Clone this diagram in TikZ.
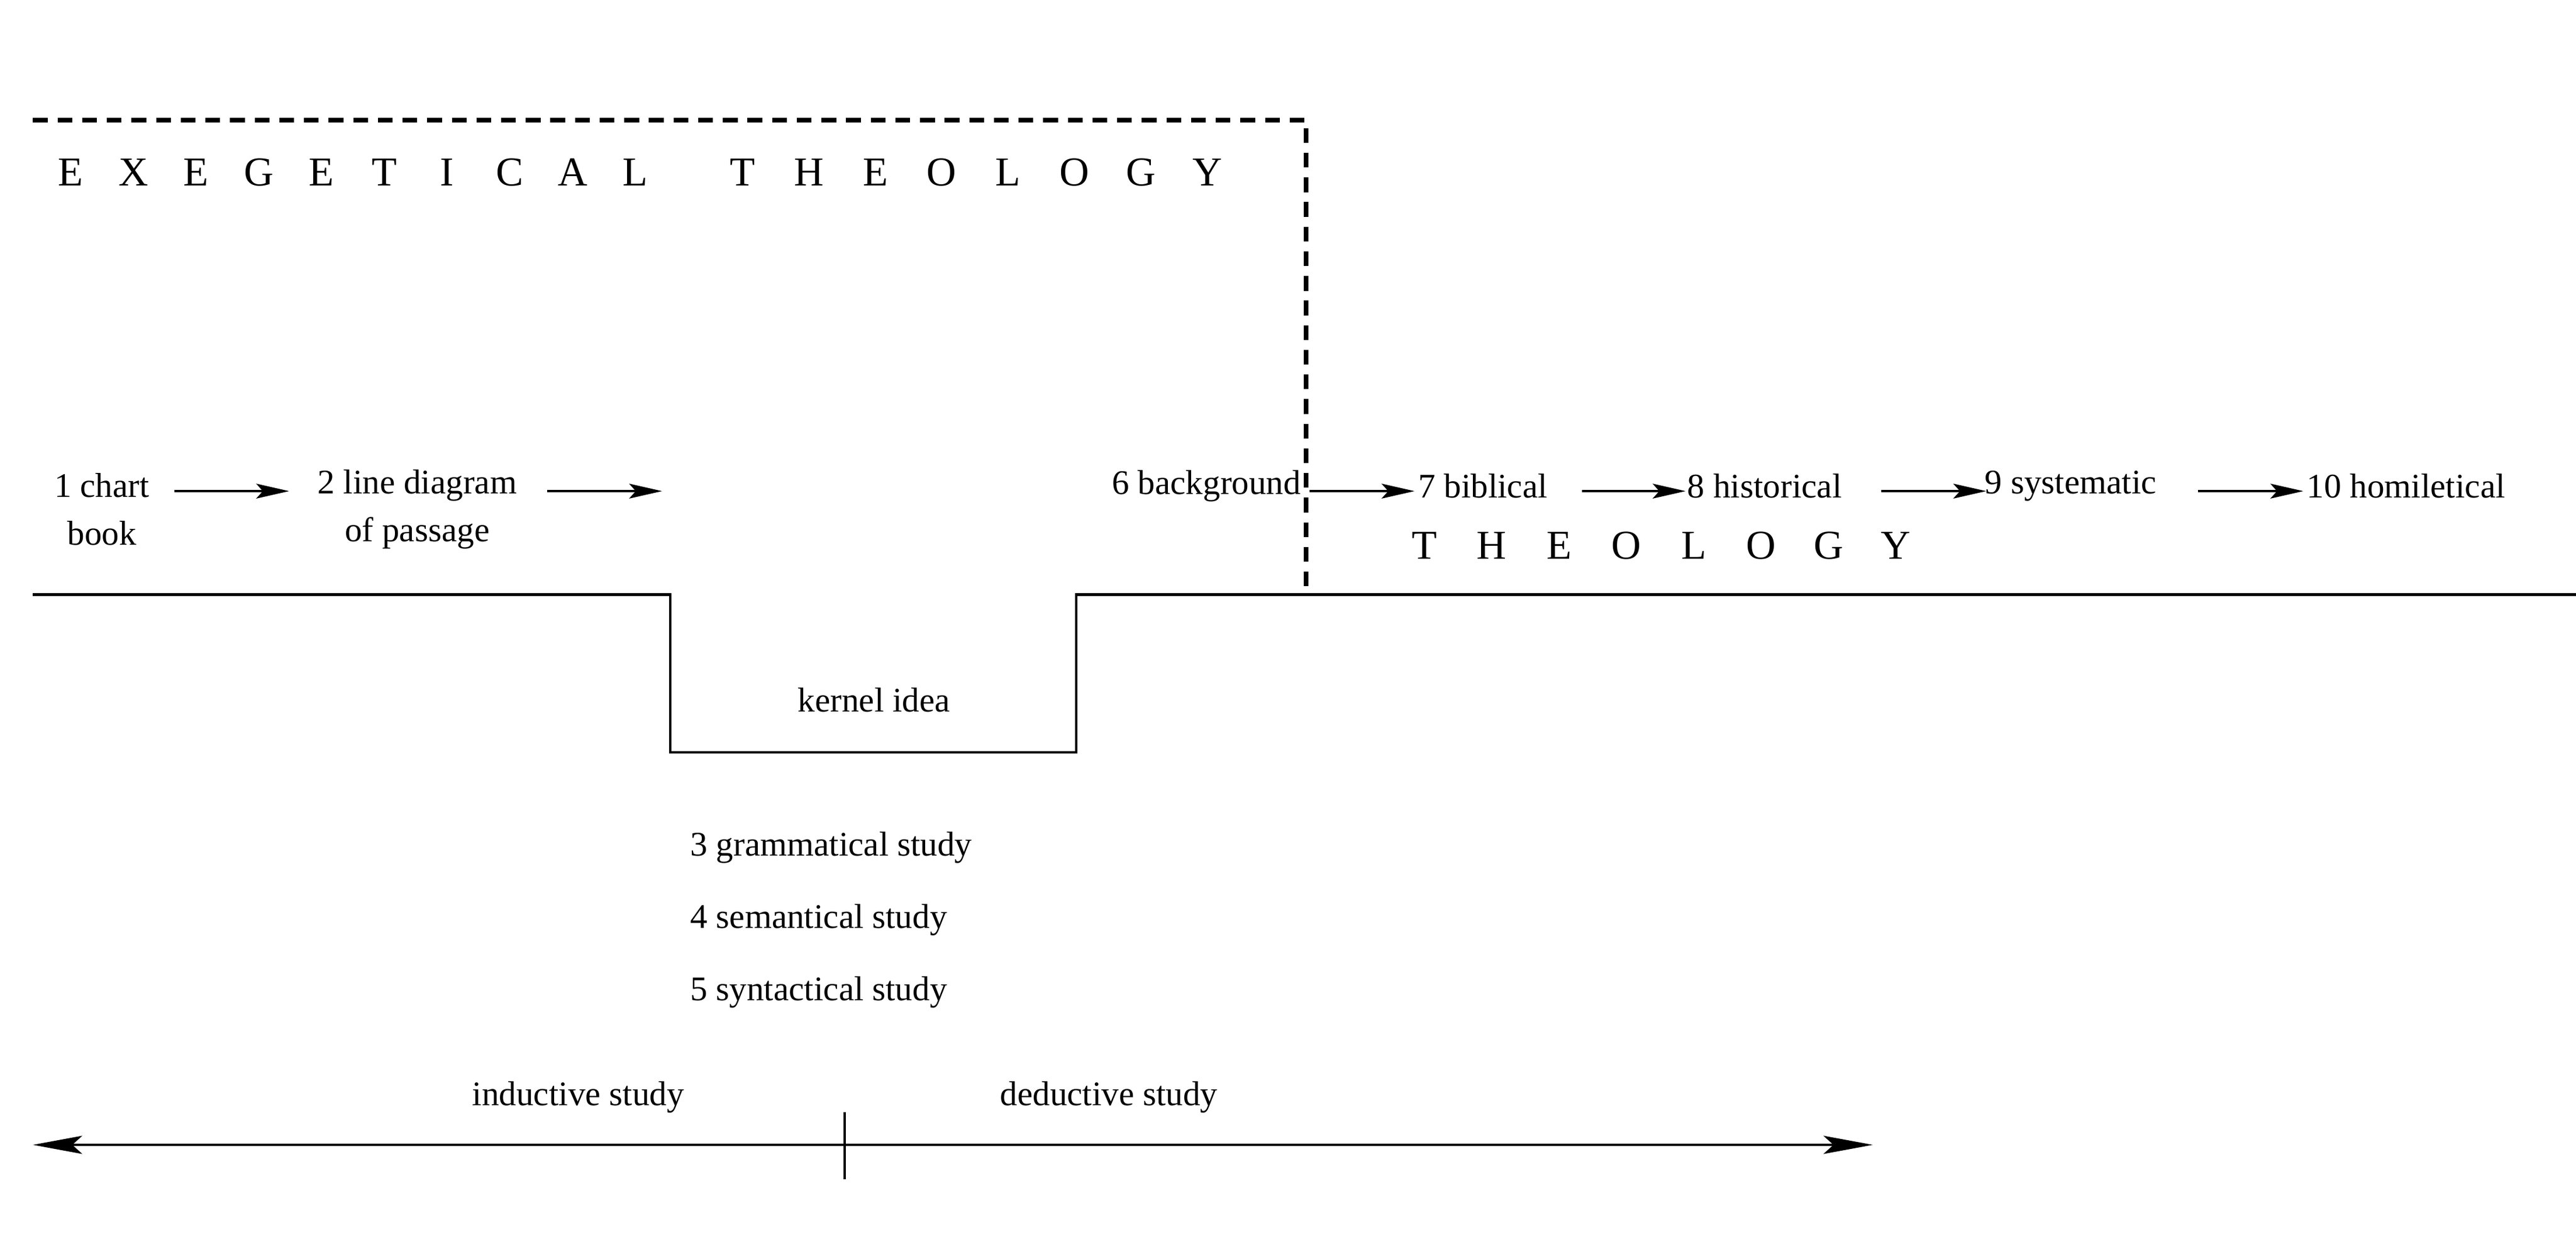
\documentclass[tikz,border=0pt]{standalone}
\usepackage{fontspec}
\setmainfont{Liberation Serif}
\usetikzlibrary{arrows.meta}
\begin{document}
\begin{tikzpicture}[x=1pt,y=-1pt,
  txt/.style={font=\fontsize{21}{29}\selectfont, inner sep=0pt},
  capl/.style={font=\fontsize{25}{29}\selectfont, inner sep=0pt},
  arr/.style={-{Stealth[length=20pt,width=9pt,inset=4pt]}, line width=1.3pt},
  ln/.style={line width=1.5pt}]
\useasboundingbox (0,0) rectangle (1568,753);
% dashed frame
\draw[line width=2.8pt, dash pattern=on 9pt off 6pt] (20,73) -- (795,73) -- (795,362);
% letters
\foreach \l [count=\i] in {E,X,E,G,E,T,I,C,A,L}
  \node[capl] (e\i) at ({43+38.2*(\i-1)},105) {\l};
\foreach \l [count=\i] in {T,H,E,O,L,O,G,Y}
  \node[capl] (f\i) at ({452+40.4*(\i-1)},105) {\l};
\foreach \l [count=\i] in {T,H,E,O,L,O,G,Y}
  \node[capl] (g\i) at ({867+41*(\i-1)},332) {\l};
% ground line
\draw[ln] (20,362) -- (408,362) -- (408,458) -- (655,458) -- (655,362) -- (1568,362);
% top row
\node[txt, align=center] (n1) at (62,310) {1 chart\\book};
\node[txt, align=center] (n2) at (254,310) {2 line diagram\\of passage};
\node[txt, anchor=east] (n6) at (792,296) {6 background};
\node[txt, anchor=west] (n7) at (863,296) {7 biblical};
\node[txt, anchor=west] (n8) at (1027,296) {8 historical};
\node[txt, anchor=west] (n9) at (1208,296) {9 systematic};
\node[txt, anchor=west] (n10) at (1404,296) {10 homiletical};
\coordinate (a1s) at (106,299); \coordinate (a1e) at (176,299);
\coordinate (a2s) at (333,299); \coordinate (a2e) at (403,299);
\coordinate (a6s) at (797,299); \coordinate (a6e) at (861,299);
\coordinate (a7s) at (963,299); \coordinate (a7e) at (1026,299);
\coordinate (a8s) at (1145,299); \coordinate (a8e) at (1209,299);
\coordinate (a9s) at (1338,299); \coordinate (a9e) at (1402,299);
\foreach \a in {1,2,6,7,8,9} \draw[arr] (a\a s) -- (a\a e);
% kernel
\node[txt] (k) at (532,426) {kernel idea};
\node[txt, anchor=west] (s3) at (420,516) {3 grammatical study};
\node[txt, anchor=west] (s4) at (420,560) {4 semantical study};
\node[txt, anchor=west] (s5) at (420,604) {5 syntactical study};
% bottom
\node[txt] (ind) at (352,668) {inductive study};
\node[txt] (ded) at (675,668) {deductive study};
\coordinate (bl) at (20,697); \coordinate (br) at (1140,697);
\coordinate (tt) at (514,677); \coordinate (tb) at (514,718);
\draw[ln, {Stealth[length=30pt,width=11pt,inset=6pt]}-{Stealth[length=30pt,width=11pt,inset=6pt]}] (bl) -- (br);
\draw[ln] (tt) -- (tb);
\end{tikzpicture}
\end{document}
